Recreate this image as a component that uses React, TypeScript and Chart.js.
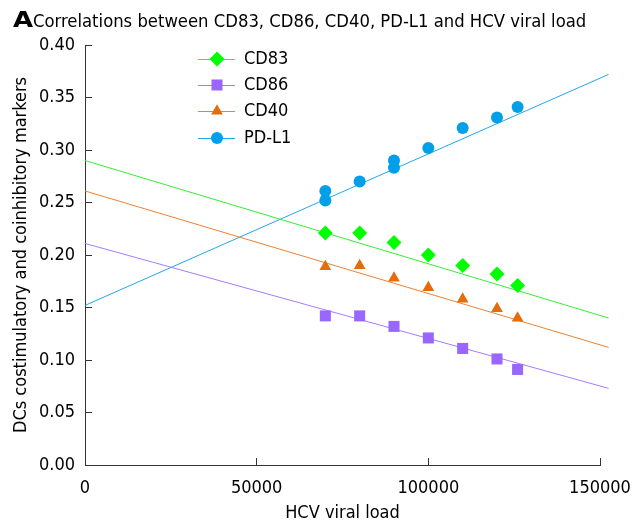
import React, { useEffect, useRef } from 'react';
import { Chart, registerables } from 'chart.js';
import { drawPoint } from 'chart.js/helpers';
Chart.register(...registerables);

const titleLetter = 'A';
const titleText = 'Correlations between CD83, CD86, CD40, PD-L1 and HCV viral load';
const xAxisTitle = 'HCV viral load';
const yAxisTitle = 'DCs costimulatory and coinhibitory markers';

const xValues = [70000, 80000, 90000, 100000, 110000, 120000, 126000];
const cd83 = [0.221, 0.221, 0.212, 0.2, 0.19, 0.182, 0.171];
const cd86 = [0.142, 0.142, 0.132, 0.121, 0.111, 0.101, 0.091];
const cd40 = [0.189, 0.19, 0.178, 0.169, 0.158, 0.149, 0.14];
const pdl1X = [70000, 70000, 80000, 90000, 90000, 100000, 110000, 120000, 126000];
const pdl1 = [0.261, 0.252, 0.27, 0.29, 0.283, 0.302, 0.321, 0.331, 0.341];

const fitX = [0, 152500];
const cd83Fit = [0.29, 0.14];
const cd86Fit = [0.211, 0.073];
const cd40Fit = [0.261, 0.112];
const pdl1Fit = [0.152, 0.372];

const xTicks = [0, 50000, 100000, 150000];
const yTicks = [0, 0.05, 0.1, 0.15, 0.2, 0.25, 0.3, 0.35, 0.4];

const seriesNames = ['CD83', 'CD86', 'CD40', 'PD-L1'];
const markerColors = ['#00ff00', '#9966ff', '#e46c0a', '#00a0e9'];
const lineColors = ['#33ee33', '#a77bff', '#f0812e', '#1ea8ea'];
const markerStyles = ['rectRot', 'rect', 'triangle', 'circle'];
const markerRadii = [7.5, 7.8, 6.8, 6];

const FONT = "'DejaVu Sans Condensed', 'DejaVu Sans', sans-serif";
const BOLD_FONT = "'DejaVu Sans', sans-serif";

const zip = (xs: number[], ys: number[]) => xs.map((x, i) => ({ x, y: ys[i] }));

const titlePlugin = {
  id: 'titleA',
  afterDraw(chart: any) {
    const ctx = chart.ctx;
    ctx.save();
    ctx.fillStyle = '#000';
    ctx.textBaseline = 'alphabetic';
    ctx.textAlign = 'left';
    ctx.save();
    ctx.translate(13, 27);
    ctx.scale(1.18, 1);
    ctx.font = `bold 22px ${BOLD_FONT}`;
    ctx.fillText(titleLetter, 0, 0);
    ctx.restore();
    ctx.font = `18.3px ${FONT}`;
    ctx.fillText(titleText, 33, 26.5);
    ctx.restore();
  },
};

const legendPlugin = {
  id: 'customLegend',
  afterDraw(chart: any) {
    const ctx = chart.ctx;
    const ys = [59, 85, 111, 138];
    ctx.save();
    seriesNames.forEach((name, i) => {
      const y = ys[i];
      ctx.strokeStyle = lineColors[i];
      ctx.lineWidth = 1;
      ctx.beginPath();
      ctx.moveTo(198, y + 0.5);
      ctx.lineTo(235, y + 0.5);
      ctx.stroke();
      ctx.fillStyle = markerColors[i];
      ctx.strokeStyle = markerColors[i];
      drawPoint(ctx, { pointStyle: markerStyles[i], radius: markerRadii[i], borderWidth: 0, rotation: 0 } as any, 217, y);
      ctx.fillStyle = '#000';
      ctx.font = `18px ${FONT}`;
      ctx.textBaseline = 'middle';
      ctx.textAlign = 'left';
      ctx.fillText(name, 244, y);
    });
    ctx.restore();
  },
};

export default function App() {
  const ref = useRef<HTMLCanvasElement | null>(null);
  useEffect(() => {
    document.body.style.margin = '0';
    const markerSets = [zip(xValues, cd83), zip(xValues, cd86), zip(xValues, cd40), zip(pdl1X, pdl1)];
    const fitSets = [zip(fitX, cd83Fit), zip(fitX, cd86Fit), zip(fitX, cd40Fit), zip(fitX, pdl1Fit)];
    const datasets: any[] = [];
    fitSets.forEach((d, i) => {
      datasets.push({
        label: seriesNames[i] + ' fit',
        data: d,
        showLine: true,
        borderColor: lineColors[i],
        borderWidth: 1,
        pointRadius: 0,
        pointHoverRadius: 0,
        clip: false,
        order: 2,
      });
    });
    markerSets.forEach((d, i) => {
      datasets.push({
        label: seriesNames[i],
        data: d,
        showLine: false,
        pointStyle: markerStyles[i],
        pointRadius: markerRadii[i],
        pointBackgroundColor: markerColors[i],
        pointBorderColor: markerColors[i],
        pointBorderWidth: 0,
        order: 1,
      });
    });
    const chart = new Chart(ref.current as HTMLCanvasElement, {
      type: 'scatter',
      data: { datasets },
      plugins: [titlePlugin, legendPlugin],
      options: {
        responsive: false,
        animation: false,
        devicePixelRatio: 1,
        layout: { padding: { top: 45, right: 36, left: 0, bottom: 0 } },
        plugins: { legend: { display: false }, tooltip: { enabled: false }, title: { display: false } },
        scales: {
          x: {
            type: 'linear',
            min: 0,
            max: 150000,
            afterBuildTicks: (s: any) => { s.ticks = xTicks.map((v) => ({ value: v })); },
            afterFit: (s: any) => { s.height = 59; s.paddingLeft = 0; s.paddingRight = 0; },
            grid: { drawOnChartArea: false, drawTicks: true, tickLength: -7, color: '#333' },
            border: { display: true, color: '#333', width: 1 },
            ticks: { color: '#000', font: { family: FONT, size: 18 }, padding: 20, maxRotation: 0, callback: (v: any) => String(v) },
            title: { display: true, text: xAxisTitle, color: '#000', font: { family: FONT, size: 18 }, padding: { top: 1, bottom: 0 } },
          },
          y: {
            type: 'linear',
            min: 0,
            max: 0.4,
            afterBuildTicks: (s: any) => { s.ticks = yTicks.map((v) => ({ value: v })); },
            afterFit: (s: any) => { s.width = 85; },
            grid: { drawOnChartArea: false, drawTicks: true, tickLength: -7, color: '#333' },
            border: { display: true, color: '#333', width: 1 },
            ticks: { color: '#000', font: { family: FONT, size: 18 }, padding: 17, callback: (v: any) => Number(v).toFixed(2) },
            title: { display: true, text: yAxisTitle, color: '#000', font: { family: FONT, size: 18 }, padding: { top: 11, bottom: 0 } },
          },
        },
      },
    } as any);
    return () => chart.destroy();
  }, []);
  return <canvas ref={ref} width={636} height={524} style={{ display: 'block' }} />;
}
